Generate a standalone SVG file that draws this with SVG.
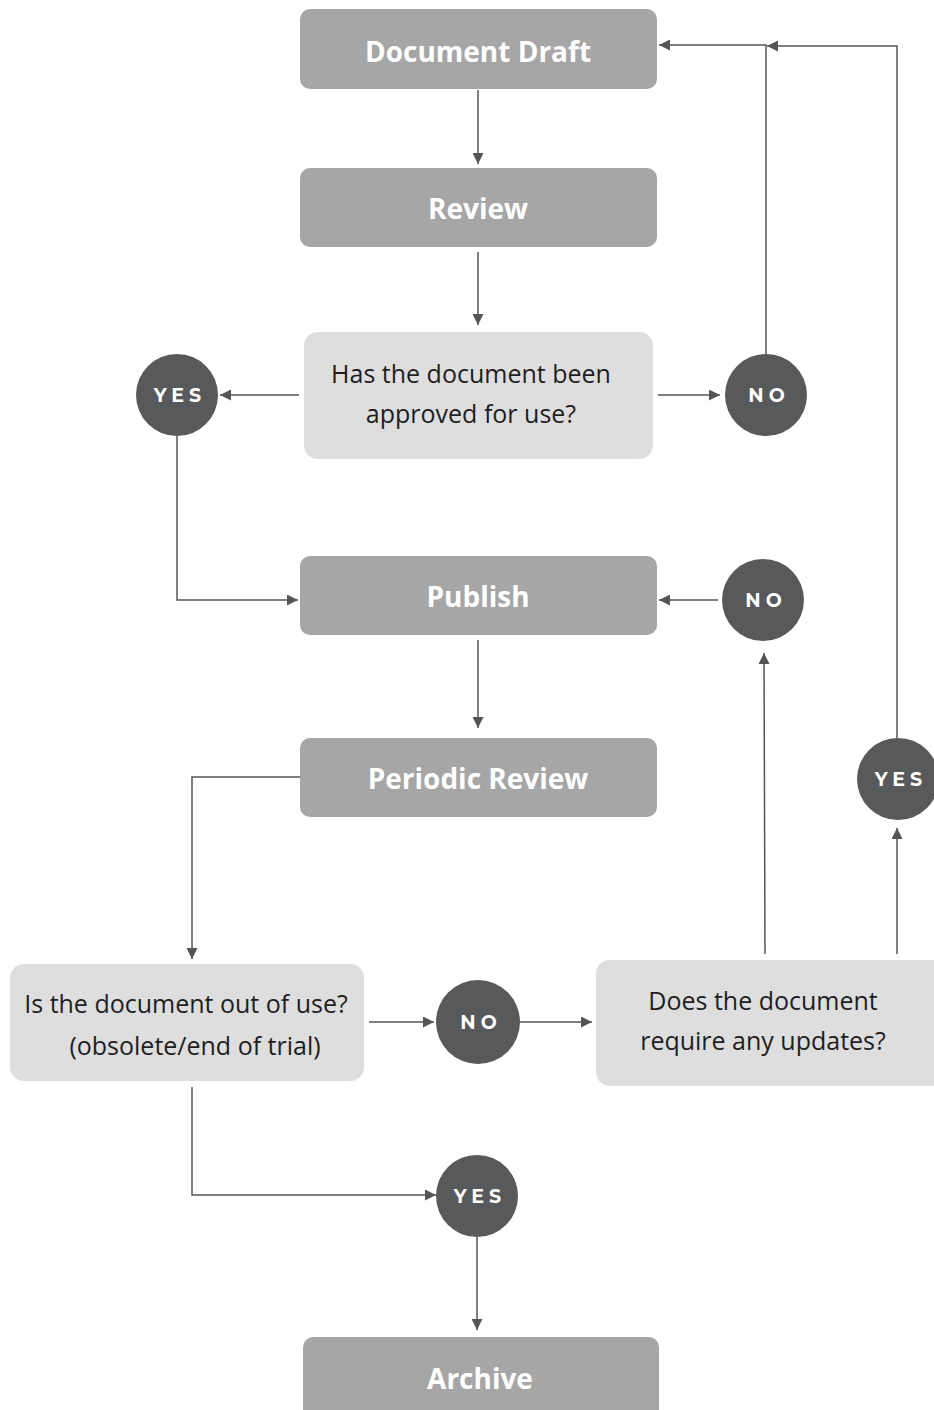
<svg xmlns="http://www.w3.org/2000/svg" width="934" height="1410" viewBox="0 0 934 1410">
<style>
.box{fill:#a6a6a6}
.dec{fill:#dedede}
.circ{fill:#58595b}
.bt{font-family:"Open Sans","Liberation Sans",sans-serif;font-weight:bold;font-size:28px;fill:#fff;text-anchor:middle}
.dt{font-family:"Open Sans","Liberation Sans",sans-serif;font-size:25px;fill:#1e1e1e;text-anchor:middle}
.ct{font-family:"Montserrat","Lato","Open Sans",sans-serif;font-weight:bold;font-size:19px;fill:#fff;text-anchor:middle;letter-spacing:5px}
.ln{fill:none;stroke:#555;stroke-width:1.5}
</style>
<defs>
<marker id="ah" viewBox="0 0 10 10" refX="10" refY="5" markerWidth="11" markerHeight="11" markerUnits="userSpaceOnUse" orient="auto">
<path d="M0,0 L10,5 L0,10 z" fill="#555"/>
</marker>
</defs>
<rect width="934" height="1410" fill="#fff"/>
<g id="connectors">
<path class="ln" marker-end="url(#ah)" d="M478,90 V164"/>
<path class="ln" marker-end="url(#ah)" d="M478,252 V325"/>
<path class="ln" marker-end="url(#ah)" d="M299,395 H220"/>
<path class="ln" marker-end="url(#ah)" d="M658,395 H720"/>
<path class="ln" marker-end="url(#ah)" d="M766,354 V45 H659"/>
<path class="ln" marker-end="url(#ah)" d="M897,738 V46 H767"/>
<path class="ln" marker-end="url(#ah)" d="M177,436 V600 H298"/>
<path class="ln" marker-end="url(#ah)" d="M718,600 H659"/>
<path class="ln" marker-end="url(#ah)" d="M478,640 V728"/>
<path class="ln" marker-end="url(#ah)" d="M300,777 H192 V959"/>
<path class="ln" marker-end="url(#ah)" d="M369,1022 H434"/>
<path class="ln" marker-end="url(#ah)" d="M519,1022 H592"/>
<path class="ln" marker-end="url(#ah)" d="M765,954 L764,653"/>
<path class="ln" marker-end="url(#ah)" d="M897,954 V828"/>
<path class="ln" marker-end="url(#ah)" d="M192,1087 V1195 H436"/>
<path class="ln" marker-end="url(#ah)" d="M477,1237 V1330"/>
</g>
<g id="draft"><rect class="box" x="300" y="9" width="357" height="80" rx="10"/><text class="bt" x="478" y="62">Document Draft</text></g>
<g id="review"><rect class="box" x="300" y="168" width="357" height="79" rx="10"/><text class="bt" x="478" y="219">Review</text></g>
<g id="approved"><rect class="dec" x="304" y="332" width="349" height="127" rx="14"/><text class="dt" x="471" y="383">Has the document been</text><text class="dt" x="471" y="423">approved for use?</text></g>
<g id="yes1"><circle class="circ" cx="177" cy="395" r="41"/><text class="ct" x="180" y="402">YES</text></g>
<g id="no1"><circle class="circ" cx="766" cy="395" r="41"/><text class="ct" x="769" y="402">NO</text></g>
<g id="publish"><rect class="box" x="300" y="556" width="357" height="79" rx="10"/><text class="bt" x="478" y="607">Publish</text></g>
<g id="no2"><circle class="circ" cx="763" cy="600" r="41"/><text class="ct" x="766" y="607">NO</text></g>
<g id="periodic"><rect class="box" x="300" y="738" width="357" height="79" rx="10"/><text class="bt" x="478" y="789">Periodic Review</text></g>
<g id="yes2"><circle class="circ" cx="898" cy="779" r="41"/><text class="ct" x="901" y="786">YES</text></g>
<g id="outofuse"><rect class="dec" x="10" y="964" width="354" height="117" rx="14"/><text class="dt" x="186" y="1013">Is the document out of use?</text><text class="dt" x="195" y="1055">(obsolete/end of trial)</text></g>
<g id="no3"><circle class="circ" cx="478" cy="1022" r="42"/><text class="ct" x="481" y="1029">NO</text></g>
<g id="updates"><rect class="dec" x="596" y="960" width="350" height="126" rx="14"/><text class="dt" x="763" y="1010">Does the document</text><text class="dt" x="763" y="1050">require any updates?</text></g>
<g id="yes3"><circle class="circ" cx="477" cy="1196" r="41"/><text class="ct" x="480" y="1203">YES</text></g>
<g id="archive"><rect class="box" x="303" y="1337" width="356" height="85" rx="10"/><text class="bt" x="480" y="1389">Archive</text></g>
</svg>
